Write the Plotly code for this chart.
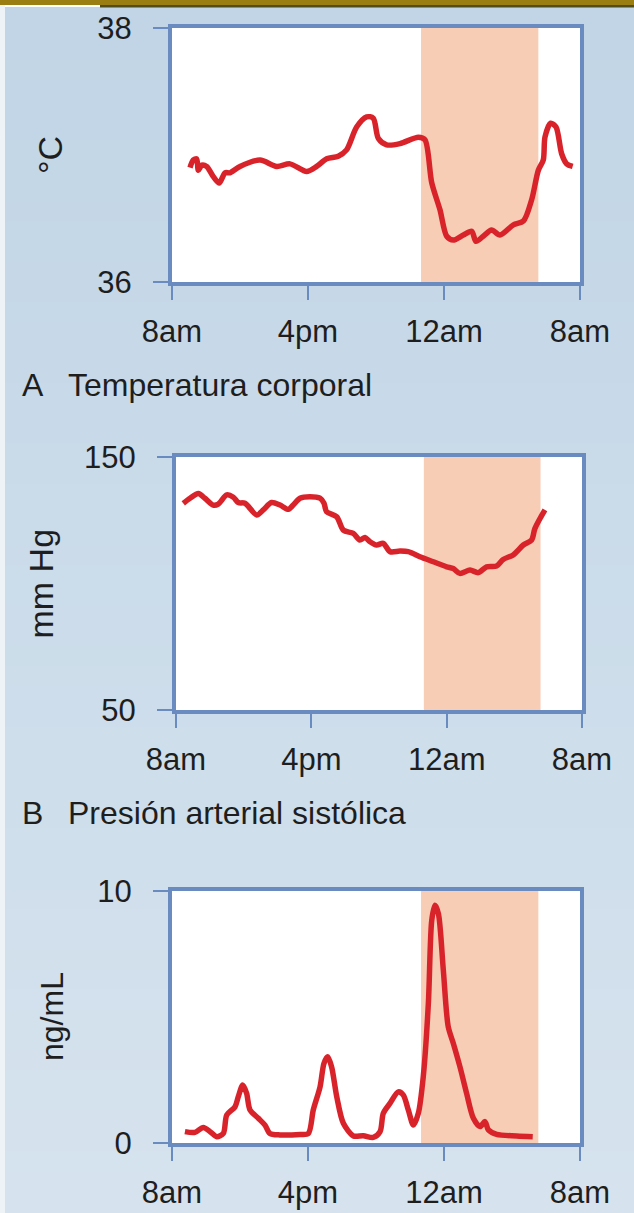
import plotly.graph_objects as go

# ---------------- data (hours after 8am) ----------------
tick_vals = [0, 8, 16, 24]
tick_text = ["8am", "4pm", "12am", "8am"]

sleep_start = 14.65
sleep_end = 21.55

temp_h = [1.06, 1.25, 1.45, 1.55, 1.75, 2.04, 2.43, 2.78, 3.12, 3.41, 4.0, 5.18, 6.16, 6.94,
          7.92, 8.51, 9.1, 9.78, 10.27, 10.86, 11.45, 11.84, 12.14, 12.63, 13.41, 14.49, 14.88,
          15.28, 15.76, 16.16, 16.55, 17.14, 17.63, 17.88, 18.31, 18.8, 19.29, 20.08, 20.67,
          21.16, 21.55, 21.84, 21.94, 22.27, 22.59, 22.92, 23.22, 23.57]
temp_v = [36.90, 36.96, 36.97, 36.88, 36.92, 36.91, 36.83, 36.78, 36.86, 36.86, 36.91, 36.96,
          36.91, 36.93, 36.87, 36.91, 36.97, 36.99, 37.04, 37.22, 37.30, 37.29, 37.13, 37.08,
          37.09, 37.14, 37.12, 36.78, 36.57, 36.36, 36.33, 36.37, 36.40, 36.32, 36.36, 36.41,
          36.37, 36.45, 36.48, 36.65, 36.88, 36.96, 37.14, 37.25, 37.22, 37.01, 36.93, 36.91]

bp_h = [0.43, 0.83, 1.32, 1.71, 2.2, 2.5, 3.0, 3.39, 3.68, 4.08, 4.77, 5.16, 5.65, 6.15, 6.64,
        6.93, 7.33, 7.92, 8.51, 8.75, 8.9, 9.5, 9.89, 10.48, 10.87, 11.17, 11.47, 11.86, 12.25,
        12.65, 13.24, 13.73, 14.42, 15.21, 16.0, 16.39, 16.78, 17.38, 17.87, 18.36, 18.95,
        19.34, 19.93, 20.53, 21.02, 21.22, 21.81]
bp_v = [131.7, 133.7, 135.6, 133.7, 131.0, 131.4, 135.0, 134.1, 132.0, 131.7, 127.1, 129.1,
        132.0, 131.0, 129.3, 131.0, 133.7, 134.3, 133.7, 131.7, 128.4, 126.4, 121.1, 119.8,
        117.2, 118.2, 116.5, 115.2, 115.9, 112.6, 112.8, 112.6, 110.6, 108.6, 106.6, 105.9,
        104.0, 105.3, 104.3, 106.6, 106.9, 109.5, 111.3, 115.2, 117.2, 121.8, 129.1]

mel_h = [0.76, 1.35, 1.84, 2.24, 2.63, 3.02, 3.22, 3.71, 3.9, 4.16, 4.39, 4.59, 5.08, 5.47,
         5.76, 6.35, 7.53, 8.02, 8.31, 8.71, 8.94, 9.16, 9.39, 9.69, 10.08, 10.67, 11.25,
         11.84, 12.24, 12.43, 12.82, 13.31, 13.61, 13.9, 14.2, 14.49, 14.78, 15.08, 15.28,
         15.47, 15.67, 15.96, 16.25, 16.55, 16.94, 17.33, 17.73, 18.12, 18.41, 18.61, 19.1,
         20.28, 21.22]
mel_v = [0.45, 0.42, 0.62, 0.45, 0.25, 0.38, 1.11, 1.44, 1.84, 2.30, 1.97, 1.31, 0.98, 0.71,
         0.38, 0.32, 0.34, 0.38, 1.31, 2.23, 3.16, 3.42, 3.02, 1.84, 0.78, 0.28, 0.29, 0.22,
         0.45, 1.18, 1.57, 2.03, 1.9, 1.31, 0.71, 1.18, 2.63, 5.54, 8.84, 9.43, 9.10, 6.86,
         4.61, 3.95, 3.02, 1.97, 0.98, 0.65, 0.85, 0.52, 0.34, 0.28, 0.25]

panels = [
    dict(x=temp_h, y=temp_v, yrange=[36, 38], yticks=[36, 38], ytitle="°C",
         letter="A", title="Temperatura corporal"),
    dict(x=bp_h, y=bp_v, yrange=[50, 150], yticks=[50, 150], ytitle="mm Hg",
         letter="B", title="Presión arterial sistólica"),
    dict(x=mel_h, y=mel_v, yrange=[0, 10], yticks=[0, 10], ytitle="ng/mL",
         letter=None, title=None),
]

# ---------------- layout geometry (pixels) ----------------
W, H = 634, 1213
geom = [  # left, right, top, bottom, ytitle center x, ytitle size
    (172, 580, 28, 282, 50, 34),
    (176, 582, 457, 710, 40, 34),
    (172, 580, 891, 1143, 52, 32),
]

FRAME = "#6a8bbf"
RED = "#d9232b"
PEACH = "#f7cdb6"
TXT = "#1e1e1e"
FONT = "Liberation Sans, Arial, Helvetica, sans-serif"

fig = go.Figure()
shapes = []
annotations = []

# background gradient
n = 60
c0 = (193, 213, 230)
c1 = (214, 227, 238)
for i in range(n):
    t = i / (n - 1)
    c = tuple(round(c0[k] + (c1[k] - c0[k]) * t) for k in range(3))
    shapes.append(dict(type="rect", xref="paper", yref="paper", x0=0, x1=1,
                       y0=1 - (i + 1) / n, y1=1 - i / n + 0.001,
                       fillcolor="rgb(%d,%d,%d)" % c, line_width=0, layer="below"))
# top banner
shapes.append(dict(type="rect", xref="paper", yref="paper", x0=0, x1=1, y0=1 - 7 / H, y1=1,
                   fillcolor="white", line_width=0, layer="below"))
shapes.append(dict(type="rect", xref="paper", yref="paper", x0=0, x1=1, y0=1 - 5 / H, y1=1,
                   fillcolor="#9a7e12", line_width=0, layer="below"))
shapes.append(dict(type="rect", xref="paper", yref="paper", x0=100 / W, x1=1, y0=1 - 7.5 / H,
                   y1=1 - 5 / H, fillcolor="#4f4d1c", line_width=0, layer="below"))
shapes.append(dict(type="rect", xref="paper", yref="paper", x0=0, x1=5 / W, y0=0, y1=1 - 5 / H,
                   fillcolor="#eef3f7", line_width=0, layer="below"))

for i, (p, g) in enumerate(zip(panels, geom)):
    L, R, T, B, ytx, yts = g
    ax = "" if i == 0 else str(i + 1)
    xa, ya = "x" + ax, "y" + ax
    fig.add_trace(go.Scatter(x=p["x"], y=p["y"], mode="lines", xaxis=xa, yaxis=ya,
                             line=dict(color=RED, width=5.5, shape="spline", smoothing=0.8),
                             showlegend=False, hoverinfo="skip"))
    common = dict(showline=True, linewidth=4, linecolor=FRAME, mirror=True, showgrid=False,
                  zeroline=False, ticks="outside", tickcolor=FRAME, tickwidth=2,
                  automargin=False,
                  tickfont=dict(family=FONT, size=31, color=TXT), fixedrange=True)
    fig.update_layout(**{
        "xaxis" + ax: dict(domain=[L / W, R / W], range=[0, 24], tickmode="array",
                           tickvals=tick_vals, ticktext=tick_text, ticklen=14,
                           ticklabelstandoff=5, anchor=ya, **common),
        "yaxis" + ax: dict(domain=[1 - B / H, 1 - T / H], range=p["yrange"], tickmode="array",
                           tickvals=p["yticks"], ticklen=15, ticklabelstandoff=15,
                           anchor=xa, **common),
    })
    shapes.append(dict(type="rect", xref=xa + " domain", yref=ya + " domain", x0=0, x1=1,
                       y0=0, y1=1, fillcolor="white", line_width=0, layer="below"))
    shapes.append(dict(type="rect", xref=xa, yref=ya + " domain", x0=sleep_start,
                       x1=sleep_end, y0=0, y1=1, fillcolor=PEACH, line_width=0,
                       layer="below"))
    annotations.append(dict(text=p["ytitle"], xref="paper", yref="paper", x=ytx / W,
                            y=1 - (T + B) / 2 / H, textangle=-90, showarrow=False,
                            xanchor="center", yanchor="middle",
                            font=dict(family=FONT, size=yts, color=TXT)))
    if p["letter"]:
        ty = 1 - (B + 103) / H
        annotations.append(dict(text=p["letter"], xref="paper", yref="paper", x=20 / W, y=ty,
                                showarrow=False, xanchor="left", yanchor="middle",
                                font=dict(family=FONT, size=32, color=TXT)))
        annotations.append(dict(text=p["title"], xref="paper", yref="paper", x=66 / W, y=ty,
                                showarrow=False, xanchor="left", yanchor="middle",
                                font=dict(family=FONT, size=32, color=TXT)))

fig.update_layout(width=W, height=H, margin=dict(l=0, r=0, t=0, b=0, pad=0),
                  paper_bgcolor="rgb(200,218,233)", plot_bgcolor="white",
                  shapes=shapes, annotations=annotations, showlegend=False)

fig.write_html("out.html", config={"displayModeBar": False},
               post_script="document.body.style.margin='0px';"
                           "document.body.style.padding='0px';"
                           "document.body.style.overflow='hidden';")
